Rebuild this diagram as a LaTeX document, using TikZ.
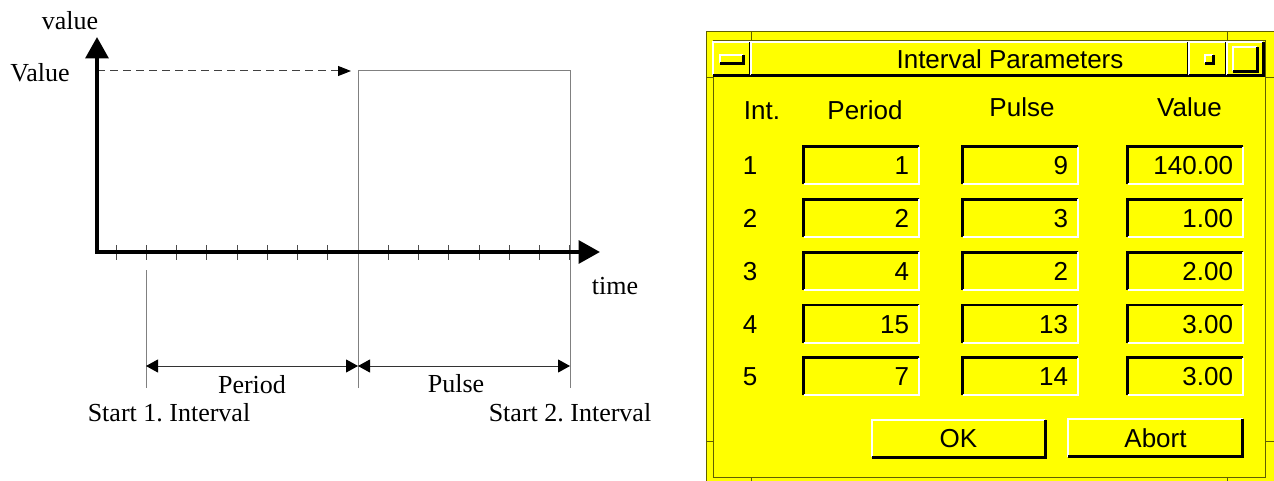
\documentclass[tikz,border=0pt]{standalone}
\usepackage{fontspec}
\setmainfont{Liberation Serif}
\newfontfamily\dlgfont{Liberation Sans}
\usetikzlibrary{arrows.meta}
\frenchspacing

\definecolor{dlgyellow}{RGB}{255,255,0}
\definecolor{dlgframe}{RGB}{96,96,0}
\definecolor{guidegray}{RGB}{128,128,128}

\begin{document}
\begin{tikzpicture}[
    x=0.75pt,
    y=-0.75pt,
    font=\fontsize{19.5}{23}\selectfont,
    axis/.style={
        line width=3pt,
        line join=miter,
        {Triangle[length=16pt,width=17pt]}-{Triangle[length=16pt,width=17pt]}
    },
    tick/.style={
        line width=0.75pt,
        black!70
    },
    guide/.style={
        line width=0.75pt,
        guidegray
    },
    levelarrow/.style={
        line width=0.75pt,
        black!75,
        dash pattern=on 6pt off 3.75pt,
        -{Triangle[length=9.75pt,width=7.5pt,color=black]}
    },
    span/.style={
        line width=0.75pt,
        black!80,
        {Triangle[length=9pt,width=9.75pt,color=black]}-{Triangle[length=9pt,width=9.75pt,color=black]}
    },
    axistext/.style={
        anchor=base,
        inner sep=0pt
    },
    dlg/.style={
        font=\dlgfont\fontsize{19.5}{23}\selectfont
    },
    heading/.style={
        dlg,
        anchor=base,
        inner sep=0pt
    },
    rownum/.style={
        dlg,
        inner sep=0pt,
        text height=14pt,
        text depth=0pt
    },
    field/.style={
        dlg,
        rectangle,
        inner xsep=7.5pt,
        inner ysep=0pt,
        text width=71.25pt,
        align=right,
        minimum height=27.75pt,
        text height=14pt,
        text depth=0pt
    },
    button/.style={
        dlg,
        rectangle,
        inner sep=0pt,
        minimum height=27.75pt,
        text height=14pt,
        text depth=0pt
    },
    barpart/.style={
        rectangle,
        inner sep=0pt,
        minimum height=24.75pt
    },
    lit/.style={
        white,
        line width=1.5pt
    },
    dark/.style={
        black,
        line width=2.25pt
    }
]
\useasboundingbox (0,0) rectangle (1274,481);

% Time axis and value axis
\coordinate (orig) at (97,252);
\coordinate (ytip) at (97,37);
\coordinate (xtip) at (600,252);
\node[axistext] (ylab) at (70,30) {value};
\node[axistext] (tlab) at (615,294) {time};

% Ticks
\foreach \k in {0,...,15}
    \draw[tick] (116+30.25*\k,245) -- (116+30.25*\k,260);

% Pulse
\coordinate (level) at (97,71);
\coordinate (rise) at (358,71);
\coordinate (fall) at (570,71);
\coordinate (riselow) at (358,388);
\coordinate (falllow) at (570,388);
\coordinate (starttop) at (146,270);
\coordinate (startlow) at (146,388);
\draw[guide] (riselow) -- (rise) -- (fall) -- (falllow);
\draw[guide] (starttop) -- (startlow);
\draw[levelarrow, shorten >=5.25pt] (level) -- (rise);
\node[axistext] (vlab) at (40,82) {Value};

\draw[axis] (ytip) -- (orig) -- (xtip);

% Period and pulse length
\coordinate (pa) at (146,366);
\coordinate (pb) at (358,366);
\coordinate (pc) at (570,366);
\draw[span] (pa) -- (pb);
\draw[span] (pb) -- (pc);
\node[axistext] (perlab) at (252,393) {Period};
\node[axistext] (pullab) at (456,392) {Pulse};
\node[axistext] (start1) at (169,421) {Start 1. Interval};
\node[axistext] (start2) at (570,421) {Start 2. Interval};

% Dialog window
\fill[dlgyellow] (706,32) rectangle (1274,481);
\draw[dlgframe, line width=0.75pt] (706,481) -- (706,32) -- (1274,32);
\draw[dlgframe, line width=0.75pt] (713,41) rectangle (1265,477);
\draw[dlgframe, line width=0.75pt]
    (751,32) -- (751,41) (1227,32) -- (1227,41)
    (751,477) -- (751,481) (1227,477) -- (1227,481)
    (706,78) -- (713,78) (1265,78) -- (1274,78)
    (706,441) -- (713,441) (1265,441) -- (1274,441);

% Title bar
\node[barpart, minimum width=27.75pt] (menubtn) at (731.5,58.5) {};
\node[barpart, minimum width=327.75pt] (titlebar) at (969.5,58.5) {};
\node[barpart, minimum width=27.75pt] (minbtn) at (1207.5,58.5) {};
\node[barpart, minimum width=27pt] (maxbtn) at (1245,58.5) {};
\node[barpart, minimum width=17.25pt, minimum height=6pt] (menuicon) at (731.5,59) {};
\node[barpart, minimum width=6pt, minimum height=6pt] (minicon) at (1209,59) {};
\node[barpart, minimum width=18pt, minimum height=18pt] (maxicon) at (1245,59) {};
\node[heading] (title) at (1010,69) {Interval Parameters};

% Column headings
\node[heading] (hint) at (762,120) {Int.};
\node[heading] (hper) at (865,120) {Period};
\node[heading] (hpul) at (1022,117) {Pulse};
\node[heading] (hval) at (1189.5,117) {Value};

% Rows
\foreach \i/\per/\pul/\val in {1/1/9/140.00, 2/2/3/1.00, 3/4/2/2.00, 4/15/13/3.00, 5/7/14/3.00} {
    \pgfmathsetmacro{\rowy}{165.5+52.75*(\i-1)}
    \node[rownum] (int\i) at (750,\rowy) {\i};
    \node[field] (per\i) at (861.5,\rowy) {\per};
    \node[field] (pul\i) at (1020.5,\rowy) {\pul};
    \node[field] (val\i) at (1185.5,\rowy) {\val};
    \foreach \n in {per\i,pul\i,val\i} {
        \draw[dark, line width=2pt] (\n.south west) |- (\n.north east);
        \draw[lit] (\n.south west) -| (\n.north east);
    }
}

% Buttons
\node[button, minimum width=129.75pt] (okbtn) at (958.5,438.5) {OK};
\node[button, minimum width=130.5pt] (abortbtn) at (1155.5,438) {Abort};

\foreach \n in {menubtn,titlebar,minbtn,maxbtn,menuicon,minicon,maxicon,okbtn,abortbtn} {
    \draw[lit] (\n.south west) |- (\n.north east);
    \draw[dark] (\n.south west) -| (\n.north east);
}

\end{tikzpicture}
\end{document}
